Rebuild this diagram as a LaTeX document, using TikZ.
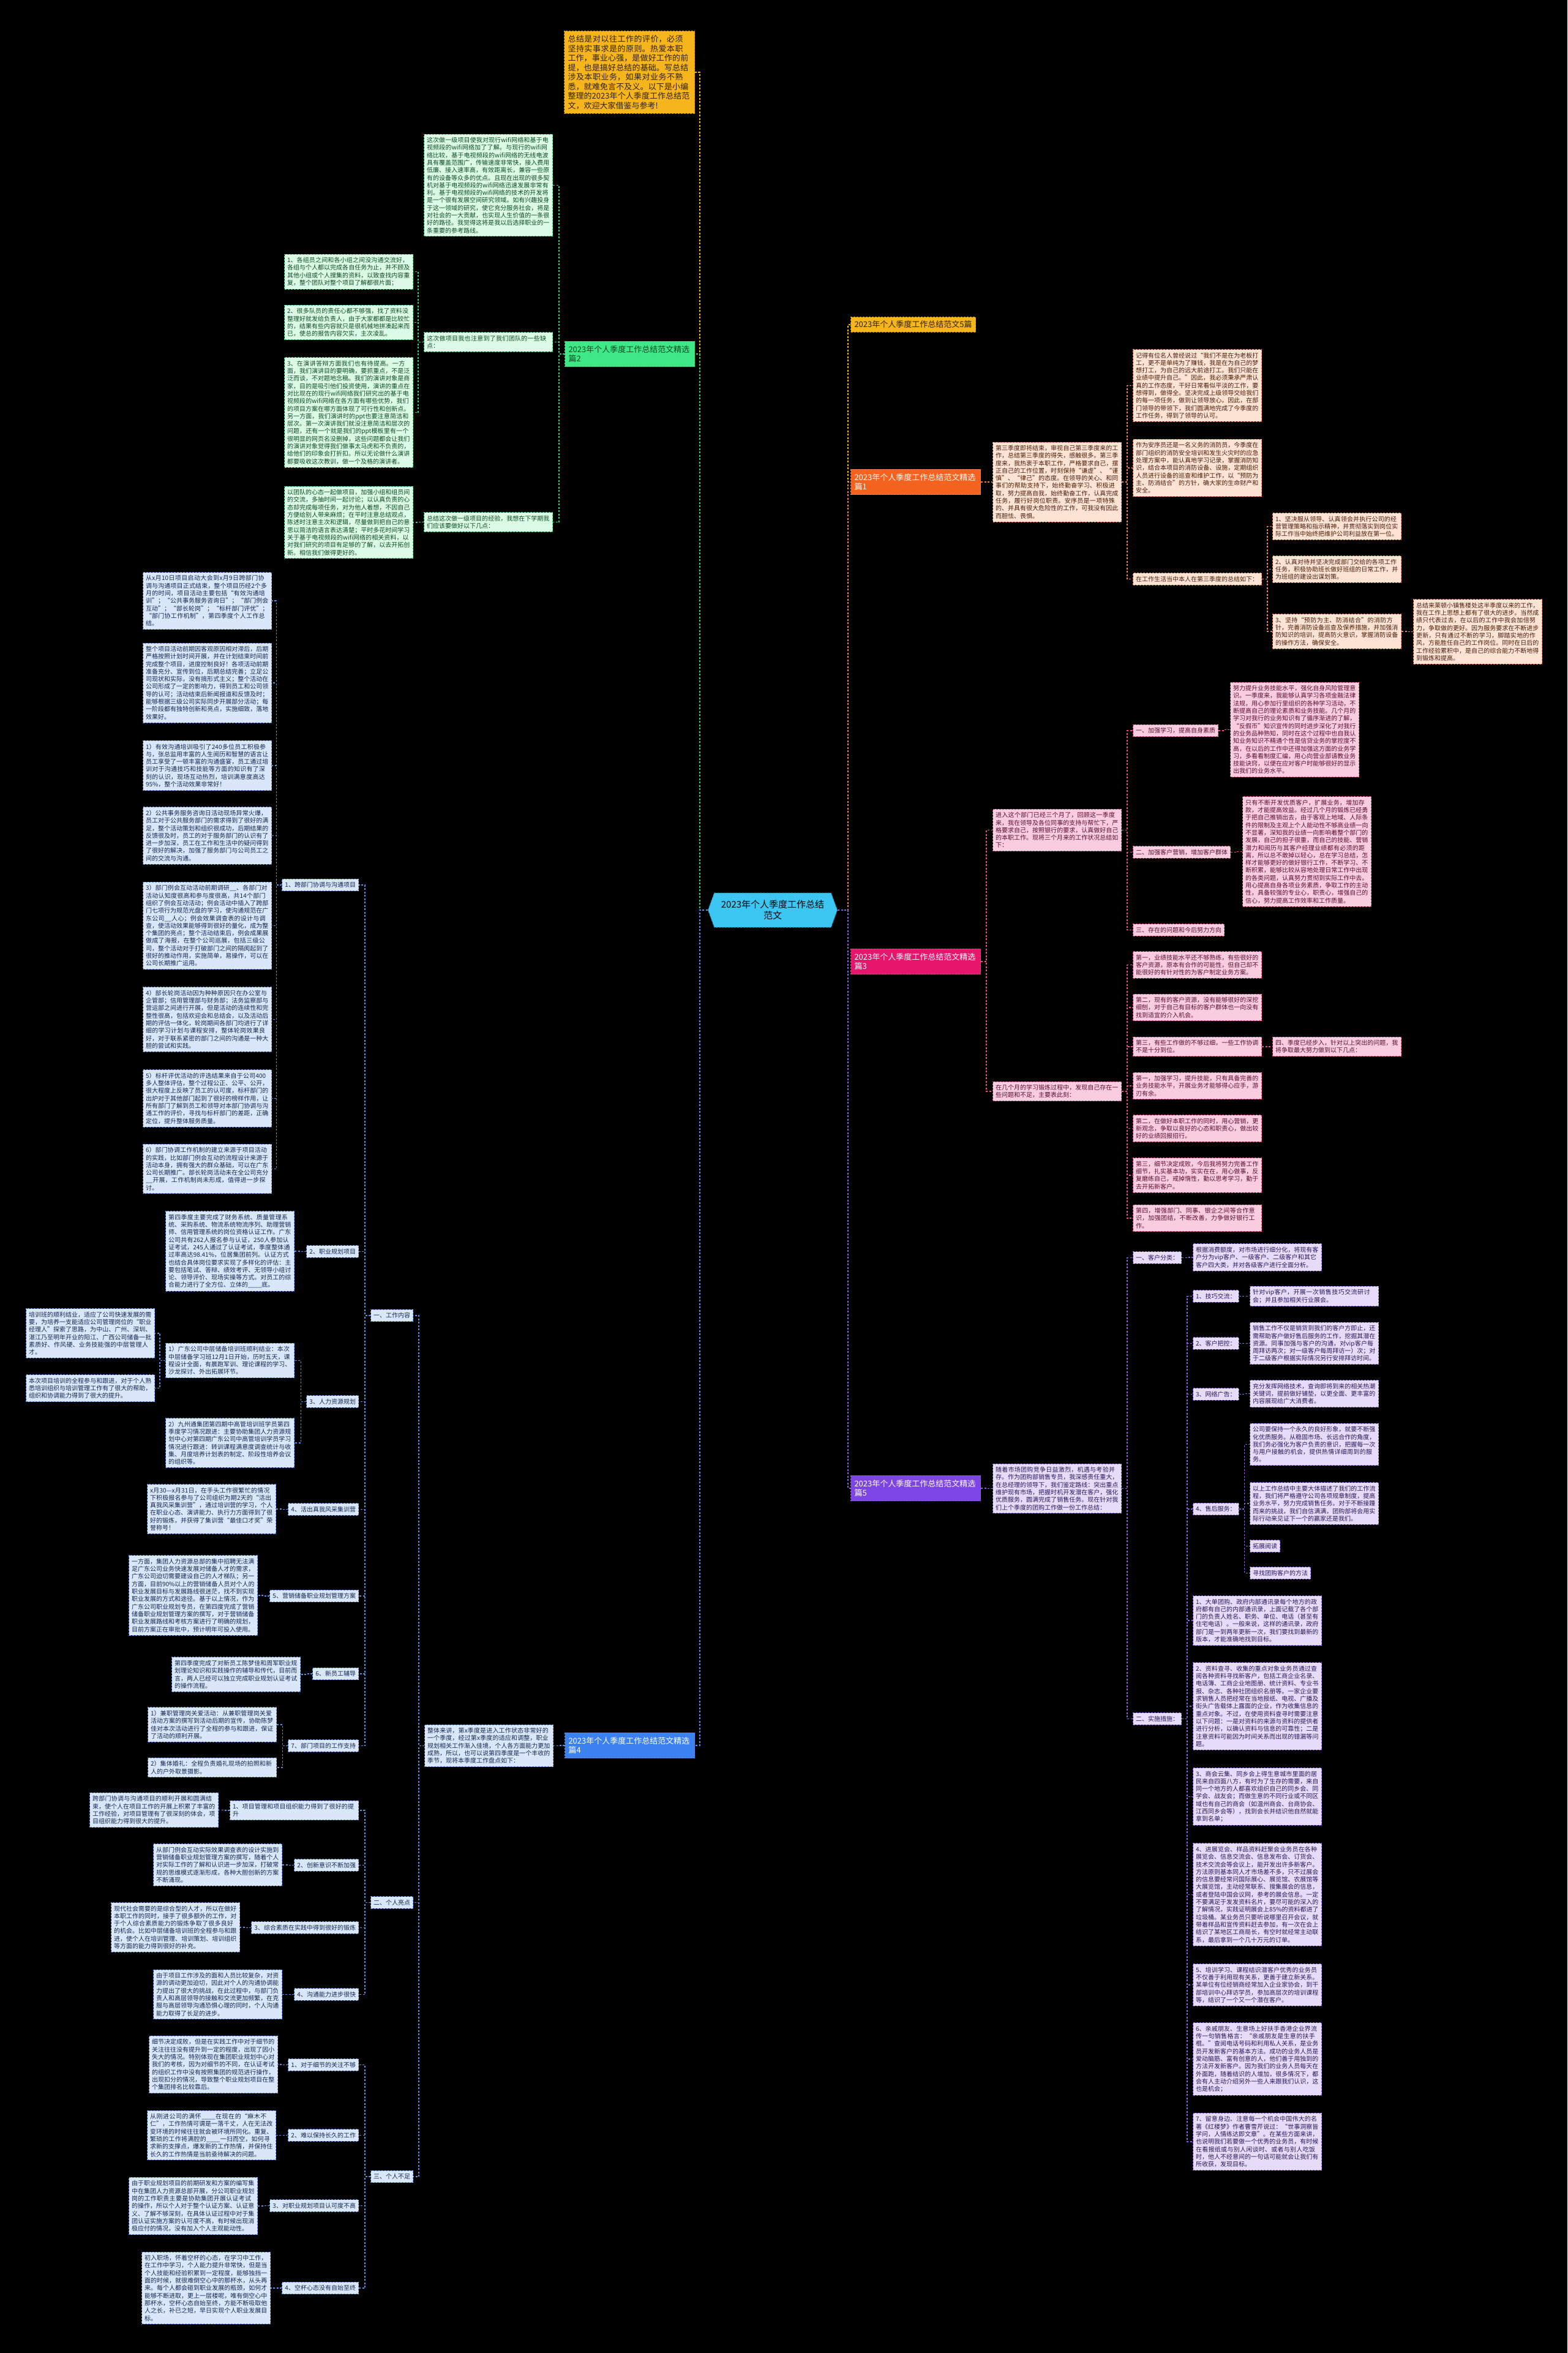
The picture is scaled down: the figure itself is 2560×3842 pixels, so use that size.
\documentclass[tikz,border=0pt]{standalone}
\usepackage{fontspec}
\setmainfont{Noto Sans CJK SC}
\usetikzlibrary{shapes.symbols}
\XeTeXlinebreaklocale "zh"
\XeTeXlinebreakskip=0pt plus 1pt
\definecolor{ctrc}{HTML}{3CC6F2}\definecolor{ctrl}{HTML}{1E9BC8}
\definecolor{gldT}{HTML}{F6B51C}\definecolor{gldL}{HTML}{C98A00}\definecolor{gldD}{HTML}{2E2200}
\definecolor{orgT}{HTML}{F4621F}\definecolor{orgF}{HTML}{FDE3D4}\definecolor{orgD}{HTML}{4A1E08}\definecolor{orgL}{HTML}{E8825A}
\definecolor{pnkT}{HTML}{E6166C}\definecolor{pnkF}{HTML}{F9CCE0}\definecolor{pnkD}{HTML}{5A0F2E}\definecolor{pnkL}{HTML}{E0508A}
\definecolor{vioT}{HTML}{7E45E5}\definecolor{vioF}{HTML}{E6DCF9}\definecolor{vioD}{HTML}{2A1858}\definecolor{vioL}{HTML}{8A63D8}
\definecolor{bluT}{HTML}{3B82F0}\definecolor{bluF}{HTML}{DAE7FA}\definecolor{bluD}{HTML}{142850}\definecolor{bluL}{HTML}{5B8DE0}
\definecolor{grnT}{HTML}{3EE887}\definecolor{grnF}{HTML}{DBFBE7}\definecolor{grnD}{HTML}{0D4A22}\definecolor{grnL}{HTML}{3EC877}
\tikzset{
 bx/.style={draw,dash pattern=on 3pt off 2pt,line width=1pt,inner xsep=4.5pt,inner ysep=5pt,font=\fontsize{10}{12.3}\selectfont,align=left},
 tw/.style={bx,text width=201pt},
 ttl/.style={draw,dash pattern=on 3pt off 2pt,line width=1pt,inner xsep=6pt,inner ysep=7pt,font=\fontsize{13}{15.5}\selectfont,align=left},
 grnttl/.style={ttl,fill=grnT,draw=grnL,text=grnD,text width=200pt},
 grnbox/.style={tw,fill=grnF,draw=grnL,text=grnD},
 orgttl/.style={ttl,fill=orgT,draw=orgL,text=white,text width=200pt},
 orgbox/.style={tw,fill=orgF,draw=orgL,text=orgD},
 pnkttl/.style={ttl,fill=pnkT,draw=pnkL,text=white,text width=200pt},
 pnkbox/.style={tw,fill=pnkF,draw=pnkL,text=pnkD},pnklab/.style={bx,fill=pnkF,draw=pnkL,text=pnkD},
 viottl/.style={ttl,fill=vioT,draw=vioL,text=white,text width=200pt},
 viobox/.style={tw,fill=vioF,draw=vioL,text=vioD},violab/.style={bx,fill=vioF,draw=vioL,text=vioD},
 bluttl/.style={ttl,fill=bluT,draw=bluL,text=white,text width=200pt},
 blubox/.style={tw,fill=bluF,draw=bluL,text=bluD},blulab/.style={bx,fill=bluF,draw=bluL,text=bluD},
 ln/.style={dash pattern=on 3pt off 2.5pt,line width=1.2pt},
 gldln/.style={ln,draw=gldT},orgln/.style={ln,draw=orgL},pnkln/.style={ln,draw=pnkL},
 violn/.style={ln,draw=vioL},bluln/.style={ln,draw=bluL},grnln/.style={ln,draw=grnL}
}
\newcommand{\edgesR}[3]{\foreach \kid in {#3}{\draw[#1] (#2.east) -- ++(9,0) |- (\kid.west);}}
\newcommand{\edgesL}[3]{\foreach \kid in {#3}{\draw[#1] (#2.west) -- ++(-9,0) |- (\kid.east);}}
\begin{document}
\begin{tikzpicture}[x=1pt,y=-1pt]
\fill[black] (0,0) rectangle (2560,3842);
\useasboundingbox (0,0) rectangle (2560,3842);
\node[signal,signal to=east and west,signal pointer angle=140,fill=ctrc,draw=ctrl,dash pattern=on 3pt off 2pt,line width=1pt,minimum width=211pt,minimum height=56pt,text=black,font=\fontsize{15}{18}\selectfont,align=center] (ctr) at (1262,1486) {2023年个人季度工作总结\\范文};
\node[ttl,fill=gldT,draw=gldL,text=gldD,anchor=east,text width=201pt] (intro) at (1135,118) {总结是对以往工作的评价，必须坚持实事求是的原则。热爱本职工作，事业心强，是做好工作的前提，也是搞好总结的基础。写总结涉及本职业务，如果对业务不熟悉，就难免言不及义。以下是小编整理的2023年个人季度工作总结范文，欢迎大家借鉴与参考!};
\node[ttl,fill=gldT,draw=gldL,text=gldD,anchor=west,inner ysep=6pt] (p0) at (1389,530) {2023年个人季度工作总结范文5篇};
\node[orgttl,anchor=west] (p1) at (1389,787) {2023年个人季度工作总结范文精选\\篇1};
\node[grnttl,anchor=east] (p2) at (1135,578) {2023年个人季度工作总结范文精选\\篇2};
\node[pnkttl,anchor=west] (p3) at (1389,1570) {2023年个人季度工作总结范文精选\\篇3};
\node[bluttl,anchor=east] (p4) at (1135,2850) {2023年个人季度工作总结范文精选\\篇4};
\node[viottl,anchor=west] (p5) at (1389,2430) {2023年个人季度工作总结范文精选\\篇5};
\draw[gldln] (ctr.west) -- ++(-13,0) |- (intro.east);
\draw[grnln] (ctr.west) -- ++(-13,0) |- (p2.east);
\draw[bluln] (ctr.west) -- ++(-13,0) |- (p4.east);
\draw[gldln] (ctr.east) -- ++(17,0) |- (p0.west);
\draw[orgln] (ctr.east) -- ++(17,0) |- (p1.west);
\draw[pnkln] (ctr.east) -- ++(17,0) |- (p3.west);
\draw[violn] (ctr.east) -- ++(17,0) |- (p5.west);

\node[grnbox,anchor=east] (g1) at (903,302.5) {这次做一级项目使我对现行wifi网络和基于电视频段的wifi网络加了了解。与现行的wifi网络比较，基于电视频段的wifi网络的无线电波具有覆盖范围广，传输速度非常快，接入费用低廉、接入速率高，有效距离长，兼容一些原有的设备等众多的优点。且现在出现的很多契机对基于电视频段的wifi网络迅速发展非常有利。基于电视频段的wifi网络的技术的开发将是一个很有发展空间研究领域。如有兴趣投身于这一领域的研究，使它充分服务社会，将是对社会的一大贡献，也实现人生价值的一条很好的路径。我觉得这将是我以后选择职业的一条重要的参考路线。};
\node[grnbox,anchor=east] (g2) at (903,558.5) {这次做项目我也注意到了我们团队的一些缺点：};
\node[grnbox,anchor=east] (g3) at (903,852.5) {总结这次做一级项目的经验，我想在下学期我们应该要做好以下几点：};
\node[grnbox,anchor=east] (g2a) at (675,443.5) {1、各组员之间和各小组之间没沟通交流好，各组与个人都以完成各自任务为止，并不顾及其他小组或个人搜集的资料，以致查找内容重复，整个团队对整个项目了解都很片面；};
\node[grnbox,anchor=east] (g2b) at (675,526.5) {2、很多队员的责任心都不够强，找了资料没整理好就发给负责人，由于大家都都是比较忙的，结果有些内容就只是很机械地拼凑起来而已，使总的报告内容欠实，主次凌乱。};
\node[grnbox,anchor=east] (g2c) at (675,673.5) {3、在演讲答辩方面我们也有待提高。一方面，我们演讲目的要明确，要抓重点，不是泛泛而谈，不对题地念稿。我们的演讲对象是商家，目的是吸引他们投资使用，演讲的重点在对比现在的现行wifi网络我们研究出的基于电视频段的wifi网络在各方面有哪些优势，我们的项目方案在哪方面体现了可行性和创新点。另一方面，我们演讲时的ppt也要注意简洁和层次。第一次演讲我们就没注意简洁和层次的问题，还有一个就是我们的ppt模板里有一个很明显的网页名没删掉，这些问题都会让我们的演讲对象觉得我们做事太马虎和不负责的，给他们的印象会打折扣。所以无论做什么演讲都要吸收这次教训，做一个及格的演讲者。};
\node[grnbox,anchor=east] (g3a) at (675,853) {以团队的心态一起做项目，加强小组和组员间的交流，多抽时间一起讨论；以认真负责的心态却完成每项任务，对为他人着想，不因自己方便给别人带来麻烦；在平时注意总结观点，陈述时注意主次和逻辑，尽量做到把自己的意思以简洁的语言表达清楚；平时多花时间学习关于基于电视频段的wifi网络的相关资料，以对我们研究的项目有足够的了解，以去开拓创新。相信我们做得更好的。};
\edgesL{grnln}{p2}{g1,g2,g3}
\edgesL{grnln}{g2}{g2a,g2b,g2c}
\edgesL{grnln}{g3}{g3a}

\node[orgbox,anchor=west] (o1) at (1621,787) {第三季度即将结束，审视自己第三季度来的工作，总结第三季度的得失，感触很多。第三季度来，我热衷于本职工作，严格要求自己，摆正自己的工作位置，时刻保持“谦虚”、“谨慎”、“律己”的态度。在领导的关心、和同事们的帮助支持下，始终勤奋学习、积极进取，努力提高自我，始终勤奋工作，认真完成任务，履行好岗位职责。安序员是一项特殊的、并具有很大危险性的工作，可我没有因此而胆怯、畏惧。};
\node[orgbox,anchor=west] (o1a) at (1850,629.5) {记得有位名人曾经说过“我们不是在为老板打工，更不是单纯为了赚钱，我是在为自己的梦想打工，为自己的远大前途打工。我们只能在业绩中提升自己。”因此，我必须秉承严肃认真的工作态度，干好日常看似平淡的工作，要想得到，做得全。坚决完成上级领导交给我们的每一项任务，做到让领导放心。因此，在部门领导的带领下，我们圆满地完成了今季度的工作任务，得到了领导的认可。};
\node[orgbox,anchor=west] (o1b) at (1850,764) {作为安序员还是一名义务的消防员，今季度在部门组织的消防安全培训和发生火灾时的应急处理方案中，能认真地学习记录，掌握消防知识，结合本项目的消防设备、设施，定期组织人员进行设备的巡查和维护工作，以“预防为主、防消结合”的方针，确大家的生命财产和安全。};
\node[orgbox,anchor=west] (o1c) at (1850,945.5) {在工作生活当中本人在第三季度的总结如下：};
\node[orgbox,anchor=west] (o1c1) at (2078,859.5) {1、坚决服从领导、认真领会并执行公司的经营管理策略和指示精神，并贯彻落实到岗位实际工作当中始终把维护公司利益放在第一位。};
\node[orgbox,anchor=west] (o1c2) at (2078,929.5) {2、认真对待并坚决完成部门交给的各项工作任务，积极协助班长做好班组的日常工作，并为班组的建设出谋划策。};
\node[orgbox,anchor=west] (o1c3) at (2078,1031) {3、坚持“预防为主、防消结合”的消防方针，完善消防设备巡查及保养措施，并加强消防知识的培训，提高防火意识，掌握消防设备的操作方法，确保安全。};
\node[orgbox,anchor=west] (o1d) at (2308,1031.5) {总结来莱顿小镇售楼处这半季度以来的工作，我在工作上思想上都有了很大的进步。当然成绩只代表过去，在以后的工作中我会加倍努力，争取做的更好。因为服务要求在不断进步更新，只有通过不断的学习，脚踏实地的作风，方能胜任自己的工作岗位。同时在日后的工作经验累积中，是自己的综合能力不断地得到锻炼和提高。};
\edgesR{orgln}{p1}{o1}
\edgesR{orgln}{o1}{o1a,o1b,o1c}
\edgesR{orgln}{o1c}{o1c1,o1c2,o1c3}
\edgesR{orgln}{o1c3}{o1d}

\node[pnkbox,anchor=west] (q1) at (1621,1355.5) {进入这个部门已经三个月了，回顾这一季度来，我在领导及各位同事的支持与帮忙下，严格要求自己，按照银行的要求，认真做好自己的本职工作。现将三个月来的工作状况总结如下：};
\node[pnklab,anchor=west] (q1a) at (1850,1193) {一、加强学习，提高自身素质};
\node[pnkbox,anchor=west] (q1a1) at (2009,1191.5) {努力提升业务技能水平，强化自身风险管理意识。一季度来，我能够认真学习各项金融法律法规，用心参加行里组织的各种学习活动，不断提高自己的理论素质和业务技能。几个月的学习对我行的业务知识有了循序渐进的了解，“反假币”知识宣传的同时进步深化了对我行的业务品种熟知，同时在这个过程中也自我认知业务知识不精通个性是信贷业务的掌控度不高，在以后的工作中还得加强这方面的业务学习，多看看制度汇编，用心向营业部请教业务技能诀窍，以便在应对客户时能够很好的显示出我们的业务水平。};
\node[pnklab,anchor=west] (q1b) at (1850,1391.5) {二、加强客户营销，增加客户群体};
\node[pnkbox,anchor=west] (q1b1) at (2029,1390.5) {只有不断开发优质客户，扩展业务，增加存款，才能提高效益。经过几个月的锻炼已经勇于把自己推销出去，由于客观上地域、人际条件的限制及主观上个人能动性不够高业绩一向不显著，深知我的业绩一向影响着整个部门的发展，自己的担子很重，而自己的技能、营销潜力和阅历与其客户经理业绩都有必须的距离，所以总不敢掉以轻心，总在学习总结，怎样才能够更好的做好银行工作，不断学习、不断积累，能够比较从容地处理日常工作中出现的各类问题，认真努力贯彻到实际工作中去。用心提高自身各项业务素质，争取工作的主动性，具备较强的专业心，职责心，增强自己的信心，努力提高工作效率和工作质量。};
\node[pnklab,anchor=west] (q1c) at (1850,1518.5) {三、存在的问题和今后努力方向};
\node[pnkbox,anchor=west] (q2) at (1621,1782) {在几个月的学习锻炼过程中，发现自己存在一些问题和不足，主要表此刻：};
\node[pnkbox,anchor=west] (q2a) at (1850,1575.5) {第一，业绩技能水平还不够熟练，有些很好的客户资源，原本有合作的可能性，但自己却不能很好的有针对性的为客户制定业务方案。};
\node[pnkbox,anchor=west] (q2b) at (1850,1645) {第二，现有的客户资源，没有能够很好的深挖细刨，对于自己有目标的客户群体也一向没有找到适宜的介入机会。};
\node[pnkbox,anchor=west] (q2c) at (1850,1709) {第三，有些工作做的不够过细，一些工作协调不是十分到位。};
\node[pnkbox,anchor=west] (q2c1) at (2078,1709) {四、季度已经步入，针对以上突出的问题，我将争取最大努力做到以下几点：};
\node[pnkbox,anchor=west] (q2d) at (1850,1773) {第一，加强学习，提升技能，只有具备完善的业务技能水平，开展业务才能够得心应手，游刃有余。};
\node[pnkbox,anchor=west] (q2e) at (1850,1842.5) {第二，在做好本职工作的同时，用心营销，更新观念，争取以良好的心态和职责心，做出较好的业绩回报招行。};
\node[pnkbox,anchor=west] (q2f) at (1850,1919) {第三，细节决定成败，今后我将努力完善工作细节，扎实基本功，实实在在，用心做事，反复磨练自己，戒掉惰性，勤以思考学习，勤于去开拓新客户。};
\node[pnkbox,anchor=west] (q2g) at (1850,1989) {第四，增强部门、同事、银企之间等合作意识，加强团结，不断改善，力争做好银行工作。};
\edgesR{pnkln}{p3}{q1,q2}
\edgesR{pnkln}{q1}{q1a,q1b,q1c}
\edgesR{pnkln}{q1a}{q1a1}
\edgesR{pnkln}{q1b}{q1b1}
\edgesR{pnkln}{q2}{q2a,q2b,q2c,q2d,q2e,q2f,q2g}
\edgesR{pnkln}{q2c}{q2c1}

\node[viobox,anchor=west] (v1) at (1621,2430.5) {随着市场团购竞争日益激烈，机遇与考验并存。作为团购部销售专员，我深感责任重大，在总经理的领导下，我们鉴定路线：突出重点维护现有市场，把握时机开发潜在客户，强化优质服务，圆满完成了销售任务。现在针对我们上个季度的团购工作做一份工作总结：};
\node[violab,anchor=west] (v1a) at (1850,2053.5) {一、客户分类：};
\node[viobox,anchor=west] (v1a1) at (1948,2053) {根据消费额度，对市场进行细分化，将现有客户分为vip客户、一级客户、二级客户和其它客户四大类，并对各级客户进行全面分析。};
\node[violab,anchor=west] (v1b) at (1850,2806.5) {二、实施措施：};
\node[violab,anchor=west] (v1b1) at (1948,2116.5) {1、技巧交流：};
\node[viobox,anchor=west] (v1b1a) at (2041,2116.5) {针对vip客户，开展一次销售技巧交流研讨会；并且参加相关行业展会。};
\node[violab,anchor=west] (v1b2) at (1948,2193.5) {2、客户把控：};
\node[viobox,anchor=west] (v1b2a) at (2041,2193.5) {销售工作不仅是销货到我们的客户方即止，还需帮助客户做好售后服务的工作，挖掘其潜在资源。同事加强与客户的沟通，对vip客户每周拜访两次；对一级客户每周拜访一）次；对于二级客户根据实际情况另行安排拜访时间。};
\node[violab,anchor=west] (v1b3) at (1948,2276.5) {3、网络广告：};
\node[viobox,anchor=west] (v1b3a) at (2041,2275.5) {充分发挥网络技术，查询即将到来的相关热潮关键词，提前做好铺垫，以更全面、更丰富的内容展现给广大消费者。};
\node[violab,anchor=west] (v1b4) at (1948,2464) {4、售后服务：};
\node[viobox,anchor=west] (v1b4a) at (2041,2358.5) {公司要保持一个永久的良好形象，就要不断强化优质服务。从稳固市场、长远合作的角度，我们务必强化为客户负责的意识，把握每一次与用户接触的机会，提供热情详细周到的服务。};
\node[viobox,anchor=west] (v1b4b) at (2041,2455) {以上工作总结中主要大体描述了我们的工作流程，我们将严格遵守公司各项规章制度，提高业务水平，努力完成销售任务。对于不断接踵而来的挑战，我们自信满满，团购部将会用实际行动来见证下一个的赢家还是我们。};
\node[violab,anchor=west] (v1b4c) at (2041,2524.5) {拓展阅读};
\node[violab,anchor=west] (v1b4d) at (2041,2568.5) {寻找团购客户的方法};
\node[viobox,anchor=west] (v1m1) at (1948,2646) {1、大单团购、政府内部通讯录每个地方的政府都有自己的内部通讯录，上面记载了各个部门的负责人姓名、职务、单位、电话（甚至有住宅电话）。一般来说，这样的通讯录，政府部门是一到两年更新一次，我们要找到最新的版本，才能准确地找到目标。};
\node[viobox,anchor=west] (v1m2) at (1948,2786) {2、资料查寻、收集的重点对象业务员通过查阅各种资料寻找新客户，包括工商企业名录、电话簿、工商企业地图册、统计资料、专业书报、杂志、各种社团组织名册等。一家企业要求销售人员把经常在当地报纸、电视、广播及街头广告载体上露面的企业，作为收集信息的重点对象。不过，在使用资料查寻时需要注意以下问题：一是对资料的来源与资料的提供者进行分析，以确认资料与信息的可靠性；二是注意资料可能因为时间关系而出现的错漏等问题。};
\node[viobox,anchor=west] (v1m3) at (1948,2933.5) {3、商会云集、同乡会上得生意城市里面的居民来自四面八方，有时为了生存的需要，来自同一个地方的人都喜欢组织自己的同乡会、同学会、战友会；而做生意的不同行业或不同区域也有自己的商会（如温州商会、台商协会、江西同乡会等），找到会长并结识他自然就能拿到名单；};
\node[viobox,anchor=west] (v1m4) at (1948,3093.5) {4、进展览会、样品资料赶聚会业务员在各种展览会、信息交流会、信息发布会、订货会、技术交流会等会议上，能开发出许多新客户。方法原则基本同人才市场差不多，只不过展会的信息要经常问国际展心、展览馆、农展馆等大展览馆，主动经常联系、搜集展会的信息，或者登陆中国会议网，参考的展会信息。一定不要满足于发发资料名片，要尽可能的深入的了解情况，实践证明展会上85\%的资料都进了垃圾桶。某业务员只要听说哪里召开会议，就带着样品和宣传资料赶去参加，有一次在会上结识了某地区工商局长，有空时就经常主动联系，最后拿到一个几十万元的订单。};
\node[viobox,anchor=west] (v1m5) at (1948,3241) {5、培训学习、课程结识潜客户优秀的业务员不仅善于利用现有关系，更善于建立新关系。某单位有位经销商经常加入企业家协会，到干部培训中心拜访学员，参加高层次的培训课程等，结识了一个又一个潜在客户。};
\node[viobox,anchor=west] (v1m6) at (1948,3362) {6、亲戚朋友、生意场上好扶手香港企业界流传一句销售格言：“亲戚朋友是生意的扶手棍。”查阅电话号码和利用私人关系，是业务员开发新客户的基本方法。成功的业务人员是爱动脑筋、富有创意的人，他们善于用独到的方法开发新客户。因为我们的业务人员每天在外面跑，随着结识的人增加，很多情况下，都会有人主动介绍另外一些人来跟我们认识，这也是机会；};
\node[viobox,anchor=west] (v1m7) at (1948,3497) {7、留意身边、注意每一个机会中国伟大的名著《红楼梦》作者曹雪芹说过：“世事洞察皆学问，人情练达即文章”。在某些方面来讲，也说明我们若要做一个优秀的业务员，有时候在看报纸或与别人闲谈时、或者与别人吃饭时，他人不经意间的一句话可能就会让我们有所收获，发现目标。};
\edgesR{violn}{p5}{v1}
\edgesR{violn}{v1}{v1a,v1b}
\edgesR{violn}{v1a}{v1a1}
\edgesR{violn}{v1b}{v1b1,v1b2,v1b3,v1b4,v1m1,v1m2,v1m3,v1m4,v1m5,v1m6,v1m7}
\edgesR{violn}{v1b1}{v1b1a}
\edgesR{violn}{v1b2}{v1b2a}
\edgesR{violn}{v1b3}{v1b3a}
\edgesR{violn}{v1b4}{v1b4a,v1b4b,v1b4c,v1b4d}

\node[blubox,anchor=east] (b0) at (904,2850.5) {整体来讲，第x季度是进入工作状态非常好的一个季度，经过第x季度的适应和调整，职业规划相关工作渐入佳境，个人各方面能力更加成熟，所以，也可以说第四季度是一个丰收的季节，现将本季度工作盘点如下：};
\node[blulab,anchor=east] (b1) at (675,2148) {一、工作内容};
\node[blulab,anchor=east] (b2) at (675,3106.5) {二、个人亮点};
\node[blulab,anchor=east] (b3) at (675,3554) {三、个人不足};
\node[blulab,anchor=east] (b11) at (586,1445) {1、跨部门协调与沟通项目};
\node[blulab,anchor=east] (b12) at (586,2043.5) {2、职业规划项目};
\node[blulab,anchor=east] (b13) at (586,2288.5) {3、人力资源规划};
\node[blulab,anchor=east] (b14) at (586,2464.5) {4、活出真我风采集训营};
\node[blulab,anchor=east] (b15) at (586,2606) {5、营销储备职业规划管理方案};
\node[blulab,anchor=east] (b16) at (586,2733) {6、新员工辅导};
\node[blulab,anchor=east] (b17) at (586,2850.5) {7、部门项目的工作支持};
\node[blubox,anchor=east] (b111) at (444,981) {从x月10日项目启动大会到x月9日跨部门协调与沟通项目正式结束，整个项目历经2个多月的时间，项目活动主要包括“有效沟通培训”；“公共事务服务咨询日”；“部门例会互动”；“部长轮岗”；“标杆部门评优”；“部门协工作机制”，第四季度个人工作总结。};
\node[blubox,anchor=east] (b112) at (444,1115) {整个项目活动前期因客观原因相对滞后，后期严格按照计划时间开展，并在计划结束时间前完成整个项目，进度控制良好！各项活动前期准备充分、宣传到位，后期总结完善；立足公司现状和实际，没有搞形式主义；整个活动在公司形成了一定的影响力，得到员工和公司领导的认可；活动结束后新闻报道和反馈及时；能够根据三级公司实际同步开展部分活动；每一阶段都有独特创新和亮点，实施细致，落地效果好。};
\node[blubox,anchor=east] (b113) at (444,1250) {1）有效沟通培训吸引了240多位员工积极参与，张总监用丰富的人生阅历和智慧的语言让员工享受了一顿丰富的沟通盛宴，员工通过培训对于沟通技巧和技能等方面的知识有了深刻的认识，现场互动热烈，培训满意度高达95\%，整个活动效果非常好！};
\node[blubox,anchor=east] (b114) at (444,1364.5) {2）公共事务服务咨询日活动现场异常火爆，员工对于公共服务部门的需求得到了很好的满足，整个活动策划和组织很成功，后期结果的反馈很及时，员工的对于服务部门的认识有了进一步加深，员工在工作和生活中的疑问得到了很好的解决，加强了服务部门与公司员工之间的交流与沟通。};
\node[blubox,anchor=east] (b115) at (444,1511.5) {3）部门例会互动活动前期调研\_\_、各部门对活动认知度很高和参与度很高，共14个部门组织了例会互动活动；例会活动中插入了跨部门七项行为规范光盘的学习，使沟通规范在广东公司\_\_人心；例会效果调查表的设计与调查，使活动效果能够得到很好的量化，成为整个集团的亮点；整个活动结束后，例会成果展做成了海报，在整个公司巡展，包括三级公司，整个活动对于打破部门之间的隔阂起到了很好的推动作用，实施简单，易操作，可以在公司长期推广运用。};
\node[blubox,anchor=east] (b116) at (444,1664.5) {4）部长轮岗活动因为种种原因只在办公室与企管部；信用管理部与财务部；法务监察部与营运部之间进行开展，但是活动的连续性和完整性很高，包括欢迎会和总结会，以及活动后期的评估一体化，轮岗期间各部门均进行了详细的学习计划与课程安排，整体轮岗效果良好，对于联系紧密的部门之间的沟通是一种大胆的尝试和实践。};
\node[blubox,anchor=east] (b117) at (444,1793.5) {5）标杆评优活动的评选结果来自于公司400多人整体评估，整个过程公正、公平、公开，很大程度上反映了员工的认可度，标杆部门的出炉对于其他部门起到了很好的榜样作用，让所有部门了解到员工和领导对本部门协调与沟通工作的评价，寻找与标杆部门的差距，正确定位，提升整体服务质量。};
\node[blubox,anchor=east] (b118) at (444,1908.5) {6）部门协调工作机制的建立来源于项目活动的实践，比如部门例会互动的流程设计来源于活动本身，拥有强大的群众基础，可以在广东公司长期推广。部长轮岗活动未在全公司充分\_\_开展，工作机制尚未形成，值得进一步探讨。};
\node[blubox,anchor=east] (b121) at (481,2043) {第四季度主要完成了财务系统、质量管理系统、采购系统、物流系统物流序列、助理营销师、信用管理系统的岗位资格认证工作。广东公司共有262人报名参与认证，250人参加认证考试，245人通过了认证考试，季度整体通过率高达98.41\%，位居集团前列。认证方式也结合具体岗位要求实现了多样化的评估：主要包括笔试、答辩、绩效考评、无领导小组讨论、领导评价、现场实操等方式。对员工的综合能力进行了全方位、立体的\_\_\_\_底。};
\node[blubox,anchor=east] (b131) at (481,2221.5) {1）广东公司中层储备培训班顺利结业：本次中层储备学习班12月1日开始，历时五天，课程设计全面，有晨跑军训、理论课程的学习、沙龙探讨、外出拓展环节。};
\node[blubox,anchor=east] (b132) at (481,2356) {2）九州通集团第四期中高管培训班学员第四季度学习情况跟进：主要协助集团人力资源规划中心对第四期广东公司中高管培训学员学习情况进行跟进：转训课程满意度调查统计与收集、月度培养计划表的制定、阶段性培养会议的组织等。};
\node[blubox,anchor=east] (b1311) at (253,2177) {培训班的顺利结业，适应了公司快速发展的需要，为培养一支能适应公司管理岗位的“职业经理人”探索了思路，为中山、广州、深圳、湛江乃至明年开业的阳江、广西公司储备一批素质好、作风硬、业务技能强的中层管理人才。};
\node[blubox,anchor=east] (b1312) at (253,2266.5) {本次项目培训的全程参与和跟进，对于个人熟悉培训组织与培训管理工作有了很大的帮助，组织和协调能力得到了很大的提升。};
\node[blubox,anchor=east] (b141) at (451,2464) {x月30—x月31日，在手头工作很繁忙的情况下积极报名参与了公司组织为期2天的“活出真我风采集训营”，通过培训营的学习，个人在职业心态、演讲能力、执行力方面得到了很好的锻炼，并获得了集训营“最佳口才奖”荣誉称号！};
\node[blubox,anchor=east] (b151) at (421,2605) {一方面，集团人力资源总部的集中招聘无法满足广东公司业务快速发展对储备人才的需求，广东公司迫切需要建设自己的人才梯队；另一方面，目前90\%以上的营销储备人员对个人的职业发展目标与发展路线很迷茫，找不到实现职业发展的方式和途径。基于以上情况，作为广东公司职业规划专员，在第四度完成了营销储备职业规划管理方案的撰写，对于营销储备职业发展路线和考核方案进行了明确的规划，目前方案正在审批中，预计明年可投入使用。};
\node[blubox,anchor=east] (b161) at (491,2734) {第四季度完成了对新员工陈梦佳和周军职业规划理论知识和实践操作的辅导和传代，目前而言，两人已经可以独立完成职业规划认证考试的操作流程。};
\node[blubox,anchor=east] (b171) at (452,2816) {1）兼职管理岗关爱活动：从兼职管理岗关爱活动方案的撰写到活动后期的宣传，协助陈梦佳对本次活动进行了全程的参与和跟进，保证了活动的顺利开展。};
\node[blubox,anchor=east] (b172) at (452,2886) {2）集体婚礼：全程负责婚礼现场的拍照和新人的户外取景摄影。};
\node[blubox,anchor=east] (b21) at (586,2956) {1、项目管理和项目组织能力得到了很好的提升};
\node[blulab,anchor=east] (b22) at (586,3045.5) {2、创新意识不断加强};
\node[blulab,anchor=east] (b23) at (586,3147.5) {3、综合素质在实践中得到很好的锻炼};
\node[blulab,anchor=east] (b24) at (586,3256.5) {4、沟通能力进步很快};
\node[blubox,anchor=east] (b211) at (357,2955.5) {跨部门协调与沟通项目的顺利开展和圆满结束，使个人在项目工作的开展上积累了丰富的工作经验，对项目管理有了很深刻的体会，项目组织能力得到很大的提升。};
\node[blubox,anchor=east] (b221) at (461,3045) {从部门例会互动实际效果调查表的设计实施到营销储备职业规划管理方案的撰写，随着个人对实际工作的了解和认识进一步加深，打破常规的思维模式逐渐形成，各种大胆创新的方案不断涌现。};
\node[blubox,anchor=east] (b231) at (392,3147) {现代社会需要的是综合型的人才，所以在做好本职工作的同时，接手了很多额外的工作，对于个人综合素质能力的锻炼争取了很多良好的机会。比如中层储备培训班的全程参与和跟进，使个人在培训管理、培训策划、培训组织等方面的能力得到很好的补充。};
\node[blubox,anchor=east] (b241) at (461,3256.5) {由于项目工作涉及的面和人员比较复杂，对资源的调动更加迫切，因此对个人的沟通协调能力提出了很大的挑战，在此过程中，与部门负责人和高层领导的接触和交流更加频繁，在克服与高层领导沟通恐惧心理的同时，个人沟通能力取得了长足的进步。};
\node[blulab,anchor=east] (b31) at (586,3371.5) {1、对于细节的关注不够};
\node[blulab,anchor=east] (b32) at (586,3486.5) {2、难以保持长久的工作};
\node[blulab,anchor=east] (b33) at (586,3601.5) {3、对职业规划项目认可度不高};
\node[blulab,anchor=east] (b34) at (586,3736) {4、空杯心态没有自始至终};
\node[blubox,anchor=east] (b311) at (454,3371) {细节决定成败，但是在实践工作中对于细节的关注往往没有提升到一定的程度，出现了因小失大的情况。特别体现在集团职业规划中心对我们的考核，因为对细节的不同，在认证考试的组织工作中没有按照集团的规范进行操作，出现扣分的情况，导致整个职业规划项目在整个集团排名比较靠后。};
\node[blubox,anchor=east] (b321) at (451,3486.5) {从刚进公司的满怀\_\_\_\_在现在的“麻木不仁”，工作热情可谓是一落千丈，人在无法改变环境的时候往往就会被环境所同化。重复、繁琐的工作将满腔的\_\_\_\_一扫而空，如何寻求新的支撑点，爆发新的工作热情，并保持住长久的工作热情是当前亟待解决的问题。};
\node[blubox,anchor=east] (b331) at (421,3602) {由于职业规划项目的前期研发和方案的编写集中在集团人力资源总部开展，分公司职业规划岗的工作职责主要是协助集团开展认证考试的操作，所以个人对于整个认证方案、认证意义、了解不够深刻，在具体认证过程中对于集团认证实施方案的认可度不高，有时候出现消极应付的情况，没有加入个人主观能动性。};
\node[blubox,anchor=east] (b341) at (442,3736) {初入职场，怀着空杯的心态，在学习中工作，在工作中学习，个人能力提升非常快，但是当个人技能和经验积累到一定程度，能够独挡一面的时候，就很难倒空心中的那杯水，从头再来。每个人都会碰到职业发展的瓶颈，如何才能够不断进取，更上一层楼呢，唯有倒空心中那杯水，空杯心态自始至终，方能不断吸取他人之长，补已之短，早日实现个人职业发展目标。};
\edgesL{bluln}{p4}{b0}
\edgesL{bluln}{b0}{b1,b2,b3}
\edgesL{bluln}{b1}{b11,b12,b13,b14,b15,b16,b17}
\edgesL{bluln}{b11}{b111,b112,b113,b114,b115,b116,b117,b118}
\edgesL{bluln}{b12}{b121}
\edgesL{bluln}{b13}{b131,b132}
\edgesL{bluln}{b131}{b1311,b1312}
\edgesL{bluln}{b14}{b141}
\edgesL{bluln}{b15}{b151}
\edgesL{bluln}{b16}{b161}
\edgesL{bluln}{b17}{b171,b172}
\edgesL{bluln}{b2}{b21,b22,b23,b24}
\edgesL{bluln}{b21}{b211}
\edgesL{bluln}{b22}{b221}
\edgesL{bluln}{b23}{b231}
\edgesL{bluln}{b24}{b241}
\edgesL{bluln}{b3}{b31,b32,b33,b34}
\edgesL{bluln}{b31}{b311}
\edgesL{bluln}{b32}{b321}
\edgesL{bluln}{b33}{b331}
\edgesL{bluln}{b34}{b341}
\end{tikzpicture}
\end{document}
